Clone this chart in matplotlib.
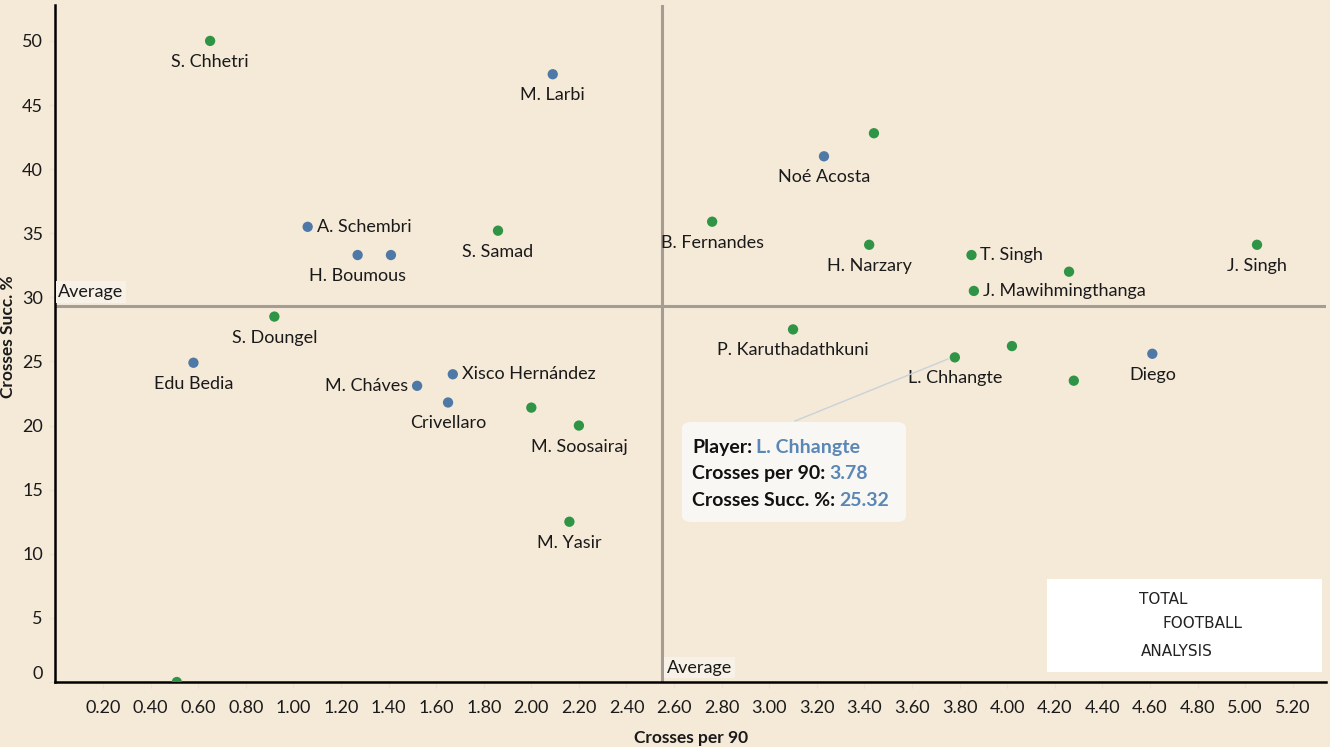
import matplotlib
matplotlib.use('Agg')
import matplotlib.pyplot as plt
from matplotlib.patches import FancyBboxPatch, Rectangle
from matplotlib.text import Annotation
import numpy as np

plt.rcParams['font.family'] = ['Lato', 'DejaVu Sans']

# ── data ───────────────────────────────────────────────────────────────────────
players = ["S. Chhetri", "M. Larbi", "", "Noé Acosta", "A. Schembri", "H. Boumous", "",
           "S. Samad", "B. Fernandes", "H. Narzary", "T. Singh", "", "J. Mawihmingthanga",
           "J. Singh", "S. Doungel", "P. Karuthadathkuni", "Edu Bedia", "L. Chhangte", "",
           "Diego", "", "Xisco Hernández", "M. Cháves", "Crivellaro", "", "M. Soosairaj",
           "M. Yasir", ""]
crosses_p90 = [0.65, 2.09, 3.44, 3.23, 1.06, 1.27, 1.41,
               1.86, 2.76, 3.42, 3.85, 4.26, 3.86,
               5.05, 0.92, 3.10, 0.58, 3.78, 4.02,
               4.61, 4.28, 1.67, 1.52, 1.65, 2.00, 2.20,
               2.16, 0.51]
crosses_succ = [50.0, 47.4, 42.8, 41.0, 35.5, 33.3, 33.3,
                35.2, 35.9, 34.1, 33.3, 32.0, 30.5,
                34.1, 28.5, 27.5, 24.9, 25.32, 26.2,
                25.6, 23.5, 24.0, 23.1, 21.8, 21.4, 20.0,
                12.5, 0.0]
team = ["g", "b", "g", "b", "b", "b", "b",
        "g", "g", "g", "g", "g", "g",
        "g", "g", "g", "b", "g", "g",
        "b", "g", "b", "b", "b", "g", "g",
        "g", "g"]
# label placement: below / right / left
label_pos = ["below", "below", "", "below", "right", "below", "",
             "below", "below", "below", "right", "", "right",
             "below", "below", "below", "below", "below", "",
             "below", "", "right", "left", "below", "", "below",
             "below", ""]

avg_x = 2.55
avg_y = 29.3
x_ticks = np.arange(0.2, 5.21, 0.2)
y_ticks = np.arange(0, 51, 5)

BG = "#f5e9d8"
GREEN = "#2f9445"
BLUE = "#4e79a7"
colors = {"g": GREEN, "b": BLUE}

# ── figure ─────────────────────────────────────────────────────────────────────
fig = plt.figure(figsize=(13.3, 7.47), dpi=100, facecolor=BG)
ax = fig.add_axes([0.0417, 0.087, 0.9553, 0.9063])
ax.set_facecolor(BG)
ax.set_xlim(0, 5.34)
ax.set_ylim(0, 52.8)

ax.axvline(avg_x, color="#a59d92", lw=2.2, zorder=1)
ax.axhline(avg_y, color="#a59d92", lw=2.2, zorder=1)

ax.scatter(crosses_p90, crosses_succ, s=55, c=[colors[t] for t in team],
           zorder=3, edgecolors="none")

for name, x, y, pos in zip(players, crosses_p90, crosses_succ, label_pos):
    if not name:
        continue
    if pos == "below":
        off, ha, va = (0, -21), "center", "center"
    elif pos == "right":
        off, ha, va = (9, 0), "left", "center"
    else:
        off, ha, va = (-9, 0), "right", "center"
    ax.annotate(name, (x, y), xytext=off, textcoords="offset pixels",
                ha=ha, va=va, fontsize=13, color="#1a1a1a", zorder=4)

# average labels
ax.text(0.012, avg_y + 0.5, "Average", fontsize=13, color="#1a1a1a", va="bottom", ha="left",
        bbox=dict(boxstyle="square,pad=0.15", fc="#f8f1e7", ec="none"), zorder=4)
ax.text(avg_x + 0.02, 0.5, "Average", fontsize=13, color="#1a1a1a", va="bottom", ha="left",
        bbox=dict(boxstyle="square,pad=0.15", fc="#f8f1e7", ec="none"), zorder=4)

# axes styling
for s in ["top", "right"]:
    ax.spines[s].set_visible(False)
ax.spines["left"].set_color("black")
ax.spines["bottom"].set_color("black")
ax.spines["left"].set_linewidth(1.8)
ax.spines["bottom"].set_linewidth(1.8)
ax.set_xticks(x_ticks)
ax.set_xticklabels([f"{v:.2f}" for v in x_ticks])
ax.set_yticks(y_ticks)
ax.set_yticklabels([str(v) for v in y_ticks])
ax.tick_params(axis="both", colors="#e9e1d4", labelcolor="#1a1a1a", labelsize=13, length=4)
ax.tick_params(axis="x", pad=9)
ax.tick_params(axis="y", pad=5)
ax.get_yticklabels()[0].set_va("bottom")

ax.set_xlabel("Crosses per 90", fontsize=12.5, fontweight="bold", color="#1a1a1a", labelpad=10)
ax.set_ylabel("Crosses Succ. %", fontsize=12.5, fontweight="bold", color="#1a1a1a")
ax.yaxis.set_label_coords(-0.031, 0.51)


# tooltip
def fx(px):
    return px / 1330


def fy(py):
    return 1 - py / 747


fig.add_artist(plt.Line2D([fx(795), fx(948)], [fy(421), fy(359)], transform=fig.transFigure,
                          color="#c8d3d8", lw=1.0, zorder=5))
fig.add_artist(FancyBboxPatch((fx(682), fy(522)), fx(224), 1 - fy(100),
                              boxstyle="round,pad=0,rounding_size=0.008",
                              transform=fig.transFigure, fc="#f9f7f4", ec="none", zorder=5))
rows = [("Player:", "L. Chhangte"), ("Crosses per 90:", "3.78"), ("Crosses Succ. %:", "25.32")]
for i, (lab, val) in enumerate(rows):
    t = fig.text(fx(692), fy(447 + 26.5 * i), lab, fontsize=14, fontweight="bold",
                 color="#111111", va="center", ha="left", zorder=6)
    fig.add_artist(Annotation(val, xy=(1, 0.5), xycoords=t,
                              xytext=(4, 0), textcoords="offset pixels",
                              va="center", ha="left", fontsize=14,
                              fontweight="bold", color="#5a87b5", zorder=6))

# logo
fig.add_artist(Rectangle((fx(1047), fy(672)), fx(275), 1 - fy(93),
                         transform=fig.transFigure, fc="white", ec="none", zorder=5))
logo_font = ['DejaVu Sans Condensed', 'Liberation Sans Narrow', 'DejaVu Sans']
fig.text(fx(1139), fy(600), "TOTAL", fontsize=11, color="#222222", va="center", ha="left",
         family=logo_font, zorder=6)
fig.text(fx(1162), fy(624), "FOOTBALL", fontsize=11, color="#222222", va="center", ha="left",
         family=logo_font, zorder=6)
fig.text(fx(1141), fy(652), "ANALYSIS", fontsize=11, color="#222222", va="center", ha="left",
         family=logo_font, zorder=6)

plt.savefig("out.png", dpi=100, facecolor=BG)
